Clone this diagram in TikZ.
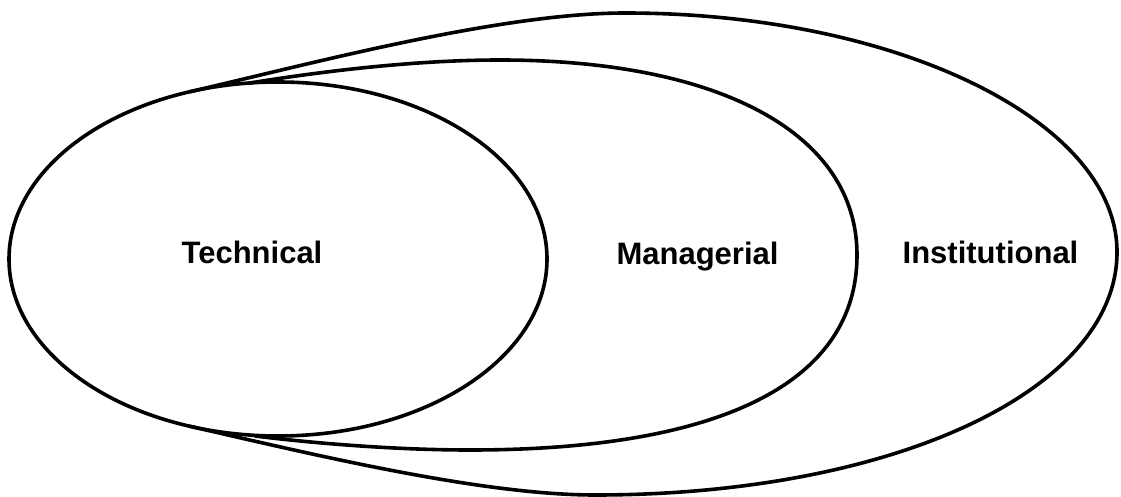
\documentclass[tikz,border=0pt]{standalone}
\usepackage{fontspec}
\setmainfont{Liberation Sans}
\begin{document}
\begin{tikzpicture}[x=1pt,y=-1pt,
    ring/.style={line width=3.6pt, line join=round, line cap=round},
    tag/.style={anchor=base, font=\fontsize{31}{36}\selectfont\bfseries}]
  \useasboundingbox (0,0) rectangle (1121,497);

  % innermost level
  \draw[ring] (278,259) ellipse [x radius=269, y radius=177];

  % middle level, leaving and rejoining the inner ellipse on its left
  \draw[ring] (250,83)
      .. controls (330,70) and (420,60) .. (500,60)
      .. controls (721,60) and (857,134) .. (857,255)
      .. controls (857,382) and (722,450) .. (470,450)
      .. controls (400,450) and (320,444) .. (255,436);

  % outer level
  \draw[ring] (190,91.7)
      .. controls (310,64) and (500,13) .. (625,13)
      .. controls (896,13) and (1117,120.5) .. (1117,252)
      .. controls (1117,390.5) and (893,495) .. (595,495)
      .. controls (480,495) and (310,453.7) .. (190,426.3);

  \node[tag] (technical)     at (252,263)   {Technical};
  \node[tag] (managerial)    at (697.5,264) {Managerial};
  \node[tag] (institutional) at (990.5,263) {Institutional};
\end{tikzpicture}
\end{document}
